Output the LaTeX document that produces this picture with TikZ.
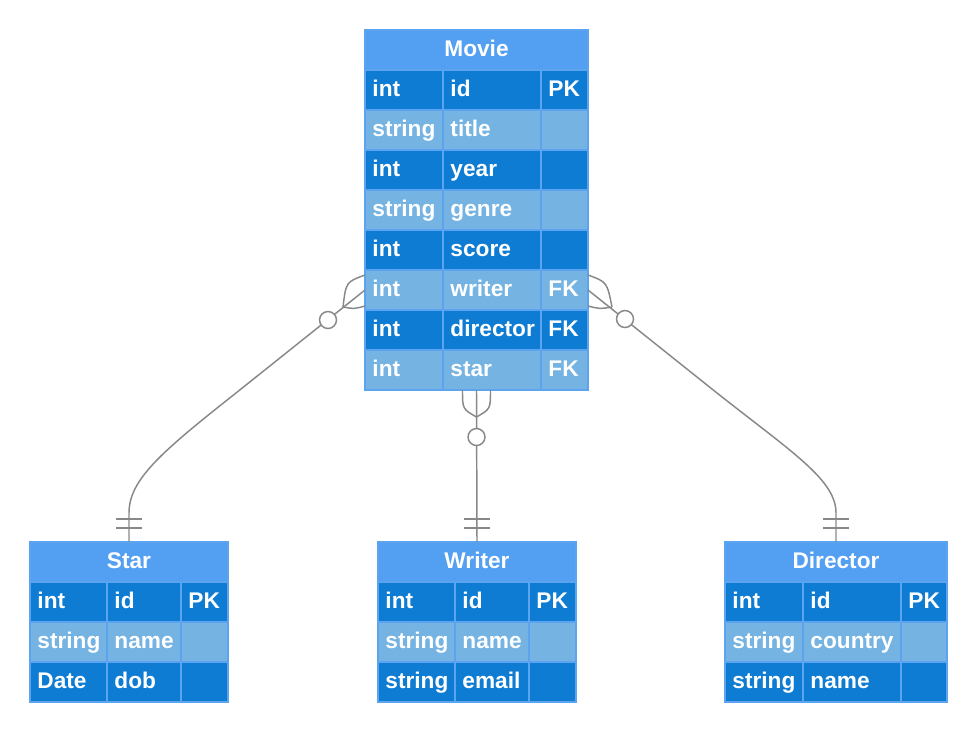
\documentclass[tikz,border=0pt]{standalone}
\usepackage{fontspec}
\setmainfont{Liberation Sans}
\usetikzlibrary{calc}
\usetikzlibrary{positioning}
\definecolor{er-head}{RGB}{83,159,242}
\definecolor{er-dark}{RGB}{14,124,210}
\definecolor{er-light}{RGB}{116,179,226}
\definecolor{er-edge}{RGB}{92,163,240}
\definecolor{er-line}{RGB}{136,136,136}

\tikzset{
  erhead/.style={draw=er-edge, fill=er-head, text=white, line width=0.9pt,
    font=\bfseries\fontsize{17}{19}\selectfont, minimum height=30pt,
    text height=12.2pt, text depth=3pt,
    inner sep=0pt, outer sep=0pt, anchor=north west},
  ercell/.style={draw=er-edge, text=white, line width=0.9pt, align=left,
    font=\bfseries\fontsize{17}{19}\selectfont, minimum height=30pt,
    text height=13pt, text depth=3.5pt, inner xsep=5.6pt, inner ysep=0pt,
    outer sep=0pt, anchor=north west},
  rel/.style={draw=er-line, line width=1.1pt},
}

% name, x, y, column widths, title, rows
\newcommand{\erentity}[8]{%
  \pgfmathsetmacro{\erw}{(#4+#5+#6)*0.75}
  \pgfmathsetmacro{\twa}{#4*0.75-11.2}
  \pgfmathsetmacro{\twb}{#5*0.75-11.2}
  \pgfmathsetmacro{\twc}{#6*0.75-11.2}
  \node[erhead, minimum width=\erw pt] (#1) at (#2,#3) {#7};
  \foreach \ty/\nm/\ky [count=\i] in {#8} {
    \pgfmathtruncatemacro{\yy}{#3+40*\i}
    \ifodd\i\relax \def\rc{er-dark}\else \def\rc{er-light}\fi
    \node[ercell, fill=\rc, text width=\twa pt] (#1-\i-t) at (#2,\yy) {\mbox{\ty}};
    \node[ercell, fill=\rc, text width=\twb pt] (#1-\i-n) at (#1-\i-t.north east) {\mbox{\nm}};
    \node[ercell, fill=\rc, text width=\twc pt] (#1-\i-k) at (#1-\i-n.north east) {\mbox{\ky}};
  }
}

\begin{document}
\begin{tikzpicture}[x=0.75pt, y=-0.75pt]
\useasboundingbox (0,0) rectangle (976,732);

\erentity{movie}{365}{30}{78}{98}{47}{Movie}{int/id/PK, string/title/{}, int/year/{},
  string/genre/{}, int/score/{}, int/writer/FK, int/director/FK, int/star/FK}
\erentity{star}{30}{542}{77}{74}{47}{Star}{int/id/PK, string/name/{}, Date/dob/{}}
\erentity{writer}{378}{542}{77}{74}{47}{Writer}{int/id/PK, string/name/{}, string/email/{}}
\erentity{director}{725}{542}{78}{98}{46}{Director}{int/id/PK, string/country/{}, string/name/{}}

\coordinate (movie-b) at ($(movie-8-t.south west)!0.5!(movie-8-k.south east)$);

% movie -- star
\draw[rel] (movie-6-t.west) -- (236,393) .. controls (160,453) and (129,480) .. ($(star.north)+(0,-29)$) -- (star.north);
\draw[rel] ($(movie-6-t.west)+(0,-15)$) .. controls (346,282) .. (343,307);
\draw[rel] ($(movie-6-t.west)+(0,16)$) .. controls (354,309) .. (343,307);
\draw[rel, fill=white] (328,320) circle[radius=8.5];
\draw[rel] ($(star.north)+(-13,-14)$) -- ++(26,0);
\draw[rel] ($(star.north)+(-13,-23)$) -- ++(26,0);

% movie -- writer
\draw[rel] (movie-b) -- (writer.north);
\draw[rel] ($(movie-b)+(-14,0)$) .. controls ($(movie-b)+(-14,19)$) .. ($(movie-b)+(0,27)$);
\draw[rel] ($(movie-b)+(14,0)$) .. controls ($(movie-b)+(14,19)$) .. ($(movie-b)+(0,27)$);
\draw[rel, fill=white] ($(movie-b)+(0,47)$) circle[radius=8.5];
\draw[rel] ($(writer.north)+(-13,-14)$) -- ++(26,0);
\draw[rel] ($(writer.north)+(-13,-23)$) -- ++(26,0);

% movie -- director
\draw[rel] (movie-6-k.east) -- (717,393) .. controls (793,453) and (836,480) .. ($(director.north)+(0,-29)$) -- (director.north);
\draw[rel] ($(movie-6-k.east)+(0,-15)$) .. controls (607,282) .. (612,307);
\draw[rel] ($(movie-6-k.east)+(0,16)$) .. controls (600,309) .. (612,307);
\draw[rel, fill=white] (625,319) circle[radius=8.5];
\draw[rel] ($(director.north)+(-13,-14)$) -- ++(26,0);
\draw[rel] ($(director.north)+(-13,-23)$) -- ++(26,0);
\end{tikzpicture}
\end{document}
